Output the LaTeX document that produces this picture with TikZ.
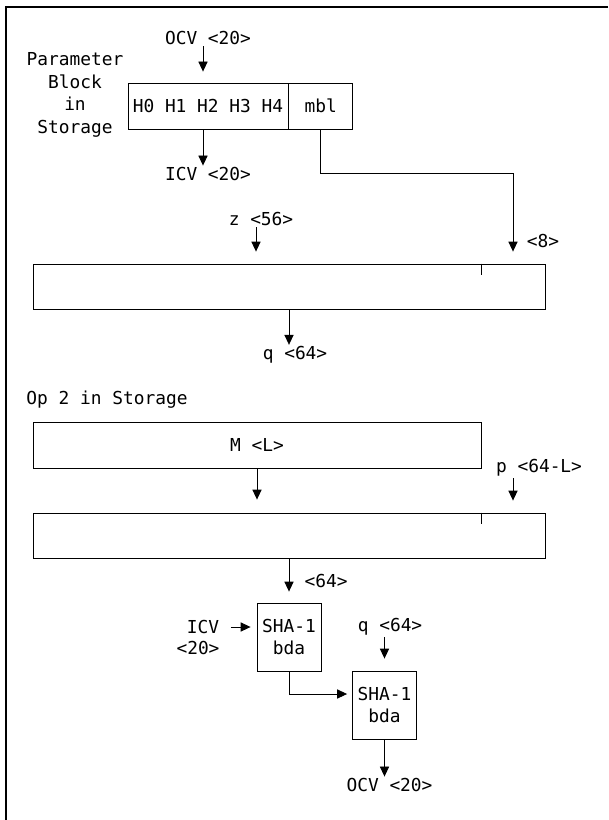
\documentclass[tikz,border=0pt]{standalone}
\usepackage{fontspec}
\setmonofont{DejaVu Sans Mono}
\usepackage{tikz}
\usetikzlibrary{arrows.meta,positioning,calc}

\begin{document}
\begin{tikzpicture}[
  x=0.25mm,y=-0.25mm,
  every node/.style={font=\ttfamily\fontsize{12.7}{15.5}\selectfont,inner sep=1pt},
  regbox/.style={draw,line width=0.6pt,inner sep=0pt,minimum height=11.25mm,minimum width=128mm},
  shabox/.style={draw,line width=0.6pt,inner sep=0pt,minimum height=17mm,minimum width=16mm,align=center},
  arr/.style={draw,line width=0.6pt,-{Triangle[length=2.5mm,width=2.3mm]}}]

\useasboundingbox (0,0) rectangle (608,820);
\draw[line width=1.2pt] (608,7) -- (6,7) -- (6,820);

% parameter block
\node (ocv1) at (208,38) {OCV <20>};
\node[align=center,font=\ttfamily\fontsize{12.7}{16}\selectfont] (parblk) at (75,95) {Parameter\\Block\\in\\Storage};
\node[draw,line width=0.6pt,inner sep=0pt,minimum width=40mm,minimum height=11.5mm] (hbox) at (208,106) {H0 H1 H2 H3 H4};
\node[draw,line width=0.6pt,inner sep=0pt,minimum width=16mm,minimum height=11.5mm,right=0mm of hbox] (mbl) {mbl};
\node (icv1) at (208,174) {ICV <20>};
\coordinate (col1) at (203,0);
\coordinate (bend8) at (513,173);

% first pad block
\node (z1) at (261,219) {z <56>};
\node (len8) at (543,241) {<8>};
\node[regbox] (box1) at (289,286.5) {};
\node (q1) at (295,355) {q <64>};

% second pad block
\node (op2) at (107,400) {Op 2 in Storage};
\node[regbox,minimum width=112mm,minimum height=11.5mm] (mbox) at (257,445) {M <L>};
\node (p1) at (539,468) {p <64-L>};
\node[regbox] (box2) at (289,535.5) {};
\node (len64) at (326,581) {<64>};

% hashing
\node[shabox] (sha1) at (289,637) {SHA-1\\bda};
\node (icv2) at (203,627) {ICV};
\node (icvlen) at (198,648) {<20>};
\node (q2) at (390,627) {q <64>};
\node[shabox] (sha2) at (384.5,705) {SHA-1\\bda};
\node (ocv2) at (389.5,785) {OCV <20>};

\draw[arr,shorten >=2.75mm] (ocv1.south -| col1) -- (hbox.north -| col1);
\draw[arr] (hbox.south -| col1) -- (icv1.north -| col1);
\draw[arr,shorten >=3mm] (mbl.south) |- (bend8) -- (bend8 |- box1.north);
\draw[arr,shorten >=3mm] (z1.south -| 256,0) -- (box1.north -| 256,0);
\draw[line width=0.6pt] (box1.north -| mbox.east) -- ++(0,11);
\draw[arr] (box1.south) -- (box1.south |- q1.north);

\draw[arr,shorten >=3.25mm] (mbox.south) -- (mbox.south |- box2.north);
\draw[arr,shorten >=3mm] (p1.south -| bend8) -- (box2.north -| bend8);
\draw[line width=0.6pt] (box2.north -| mbox.east) -- ++(0,11);
\draw[arr,shorten >=2.75mm] (box2.south) -- (sha1.north);
\draw[arr,shorten <=2.5mm,shorten >=1.5mm] (icv2.east) -- (icv2.east -| sha1.west);
\draw[arr,shorten >=1.25mm] (sha1.south) |- ([yshift=2.75mm]sha2.west);
\draw[arr,shorten >=3mm] (q2.south -| sha2.north) -- (sha2.north);
\draw[arr] (sha2.south) -- (sha2.south |- ocv2.north);
\end{tikzpicture}
\end{document}
